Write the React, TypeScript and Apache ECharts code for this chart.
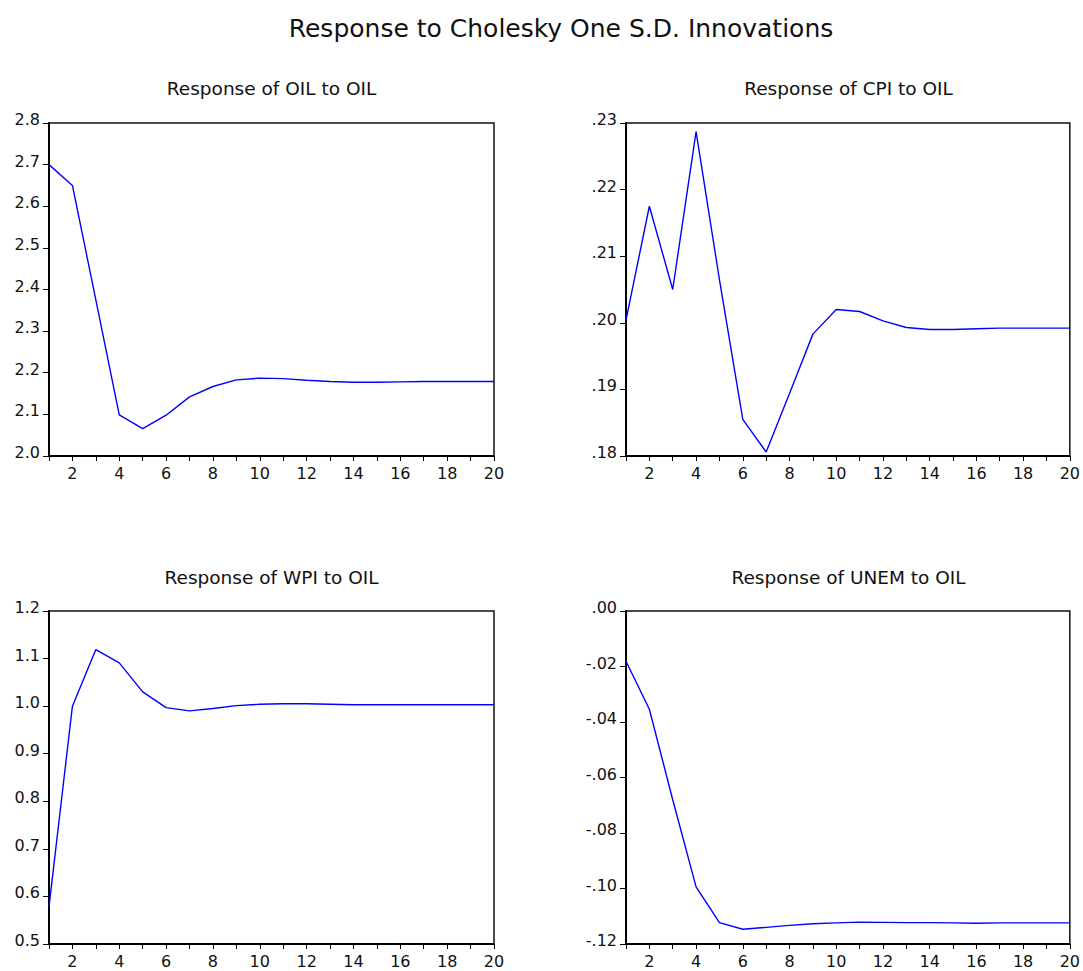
import React, { useEffect, useRef } from "react";
import * as echarts from "echarts";

const periods = [1, 2, 3, 4, 5, 6, 7, 8, 9, 10, 11, 12, 13, 14, 15, 16, 17, 18, 19, 20];

const oilToOil = [2.70, 2.65, 2.375, 2.099, 2.066, 2.098, 2.142, 2.167, 2.183, 2.187, 2.186, 2.182, 2.179, 2.177, 2.177, 2.178, 2.179, 2.179, 2.179, 2.179];
const cpiToOil = [0.2004, 0.2175, 0.2050, 0.2287, 0.2065, 0.1855, 0.1806, 0.1894, 0.1983, 0.2020, 0.2017, 0.2003, 0.1993, 0.1990, 0.1990, 0.1991, 0.1992, 0.1992, 0.1992, 0.1992];
const wpiToOil = [0.578, 1.0, 1.119, 1.091, 1.030, 0.997, 0.990, 0.995, 1.001, 1.004, 1.005, 1.005, 1.004, 1.003, 1.003, 1.003, 1.003, 1.003, 1.003, 1.003];
const unemToOil = [-0.0181, -0.0354, -0.0680, -0.0994, -0.1123, -0.1147, -0.1140, -0.1133, -0.1127, -0.1124, -0.1121, -0.1122, -0.1123, -0.1123, -0.1124, -0.1125, -0.1124, -0.1124, -0.1124, -0.1124];

const mainTitle = "Response to Cholesky One S.D. Innovations";
const panelTitles = ["Response of OIL to OIL", "Response of CPI to OIL", "Response of WPI to OIL", "Response of UNEM to OIL"];
const yMins = [2.0, 0.18, 0.5, -0.12];
const yMaxs = [2.8, 0.23, 1.2, 0.0];
const yIntervals = [0.1, 0.01, 0.1, 0.02];
const yDecimals = [1, 2, 1, 2];
const yDropZero = [false, true, false, true];

const FONT = "'DejaVu Sans', 'Liberation Sans', Arial, sans-serif";

export default function App() {
  const ref = useRef<HTMLDivElement>(null);
  useEffect(() => {
    if (!ref.current) return;
    const chart = echarts.init(ref.current, undefined, { renderer: "svg" });
    const grids = [
      { left: 49, top: 123, width: 445, height: 333 },
      { left: 626, top: 123, width: 445, height: 333 },
      { left: 49, top: 611, width: 445, height: 333 },
      { left: 626, top: 611, width: 445, height: 333 },
    ];
    const allData = [oilToOil, cpiToOil, wpiToOil, unemToOil];
    const option: any = {
      animation: false,
      backgroundColor: "#ffffff",
      grid: grids.map((g) => ({
        ...g,
        show: true,
        borderColor: "#111",
        borderWidth: 1.5,
        backgroundColor: "transparent",
        containLabel: false,
      })),
      xAxis: grids.map((_, i) => ({
        type: "value",
        gridIndex: i,
        min: 1,
        max: 20,
        interval: 1,
        splitLine: { show: false },
        axisLine: { show: true, onZero: false, lineStyle: { color: "#000", width: 2 } },
        axisTick: { show: true, inside: false, length: 5, lineStyle: { color: "#000", width: 1 } },
        axisLabel: {
          show: true,
          margin: 9,
          color: "#111",
          fontFamily: FONT,
          fontSize: 16,
          showMinLabel: true,
          showMaxLabel: true,
          formatter: (v: number) => (Math.round(v) % 2 === 0 ? String(Math.round(v)) : ""),
        },
      })),
      yAxis: grids.map((_, i) => ({
        type: "value",
        gridIndex: i,
        min: yMins[i],
        max: yMaxs[i],
        interval: yIntervals[i],
        splitLine: { show: false },
        axisLine: { show: true, onZero: false, lineStyle: { color: "#000", width: 2 } },
        axisTick: { show: true, inside: false, length: 6, lineStyle: { color: "#000", width: 1 } },
        axisLabel: {
          show: true,
          margin: 9,
          color: "#111",
          fontFamily: FONT,
          fontSize: 16,
          formatter: (v: number) => {
            let s = v.toFixed(yDecimals[i]);
            if (yDropZero[i]) s = s.replace(/^(-?)0\./, "$1.");
            return "{a|" + s + "}";
          },
          rich: {
            a: {
              color: "#111",
              fontFamily: FONT,
              fontSize: 16,
              padding: [0, 0, 7, 0],
            },
          },
        },
      })),
      series: allData.map((d, i) => ({
        type: "line",
        xAxisIndex: i,
        yAxisIndex: i,
        data: periods.map((p, k) => [p, d[k]]),
        showSymbol: false,
        symbol: "none",
        lineStyle: { color: "#0000ff", width: 1.4 },
        itemStyle: { color: "#0000ff" },
        silent: true,
      })),
      graphic: [
        {
          type: "text",
          x: 561,
          y: 28,
          style: {
            text: mainTitle,
            fill: "#111",
            font: `25px ${FONT}`,
            textAlign: "center",
            textVerticalAlign: "middle",
          },
        },
        ...panelTitles.map((t, i) => ({
          type: "text",
          x: grids[i].left + grids[i].width / 2,
          y: i < 2 ? 88 : 577,
          style: {
            text: t,
            fill: "#111",
            font: `18.5px ${FONT}`,
            textAlign: "center",
            textVerticalAlign: "middle",
          },
        })),
      ],
    };
    chart.setOption(option);
    return () => chart.dispose();
  }, []);
  return (
    <div
      ref={ref}
      style={{ position: "fixed", left: 0, top: 0, width: 1083, height: 971, background: "#fff" }}
    />
  );
}
